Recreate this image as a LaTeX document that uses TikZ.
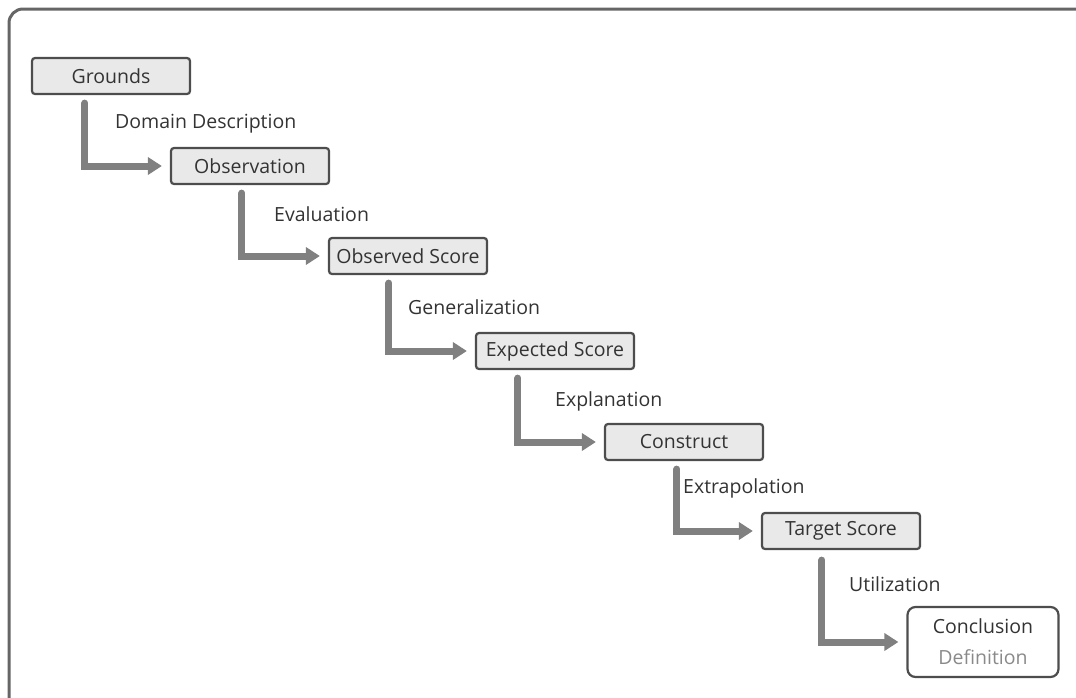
\documentclass[tikz,border=0pt]{standalone}
\usepackage{fontspec}
\setmainfont{Open Sans}
\usepackage{xcolor}
\definecolor{frameedge}{HTML}{666666}
\definecolor{boxedge}{HTML}{4D4D4D}
\definecolor{boxfill}{HTML}{E9E9E9}
\definecolor{flowgray}{HTML}{808080}
\definecolor{labeltext}{HTML}{333333}
\definecolor{softtext}{HTML}{8A8A8A}
\usepackage{tikz}
\usetikzlibrary{arrows.meta, calc}

\begin{document}
\begin{tikzpicture}[
  x=1pt, y=-1pt,
  font=\fontsize{19.5}{24}\selectfont,
  stage/.style={
    draw=boxedge, fill=boxfill, line width=2.2pt, rounded corners=3pt,
    minimum width=158pt, minimum height=36pt, text=labeltext, inner sep=0pt
  },
  flow/.style={
    draw=flowgray, line width=7pt, line cap=round,
    -{Triangle[length=14pt,width=17pt]}, shorten >=8pt
  },
  steplabel/.style={anchor=west, text=labeltext, inner sep=0pt}
]
  \useasboundingbox (0,0) rectangle (1076,697);
  \draw[frameedge, line width=3pt, rounded corners=14pt] (9,9) rectangle (1095,715);

  % stages of the argument
  \node[stage] (grounds)  at (111,76)  {Grounds};
  \node[stage] (obsv)     at (250,166) {Observation};
  \node[stage] (obsscore) at (408,256) {Observed Score};
  \node[stage] (expscore) at (555,351) {Expected Score};
  \node[stage] (construct) at (684,442) {Construct};
  \node[stage] (target)   at (841,531) {Target Score};
  \node[stage, fill=white, minimum width=151pt, minimum height=70pt,
        rounded corners=8pt, align=center] (concl) at (983,642)
    {Conclusion\\[7pt]\textcolor{softtext}{Definition}};

  % inferences between stages
  \draw[flow] ([xshift=54,yshift=-8]grounds.south west)   |- (obsv.west);
  \draw[flow] ([xshift=72,yshift=-8]obsv.south west)      |- (obsscore.west);
  \draw[flow] ([xshift=61,yshift=-8]obsscore.south west)  |- (expscore.west);
  \draw[flow] ([xshift=43,yshift=-8]expscore.south west)  |- (construct.west);
  \draw[flow] ([xshift=73,yshift=-8]construct.south west) |- (target.west);
  \draw[flow] ([xshift=61,yshift=-10]target.south west)   |- (concl.west);

  \node[steplabel] (ldomain) at (115,124) {Domain Description};
  \node[steplabel] (leval)   at (274,214) {Evaluation};
  \node[steplabel] (lgen)    at (408,307) {Generalization};
  \node[steplabel] (lexpl)   at (555,401) {Explanation};
  \node[steplabel] (lextra)  at (683,488) {Extrapolation};
  \node[steplabel] (lutil)   at (849,584) {Utilization};
\end{tikzpicture}
\end{document}
